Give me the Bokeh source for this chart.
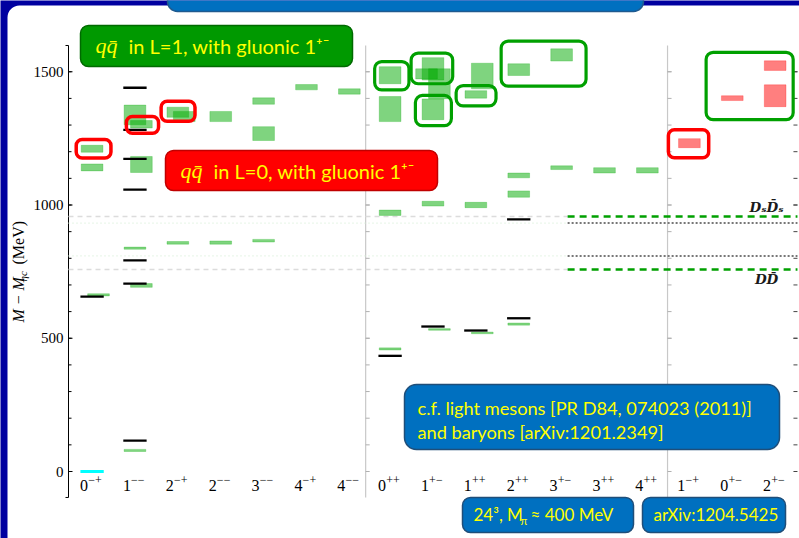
import math
from bokeh.plotting import figure
from bokeh.models import BoxAnnotation, Label, ColumnDataSource
from bokeh.core.properties import value
from bokeh.embed import file_html
from bokeh.resources import INLINE

# ---------------- data ----------------
categories = ["0⁻⁺", "1⁻⁻", "2⁻⁺", "2⁻⁻", "3⁻⁻", "4⁻⁺", "4⁻⁻",
              "0⁺⁺", "1⁺⁻", "1⁺⁺", "2⁺⁺", "3⁺⁻", "3⁺⁺", "4⁺⁺",
              "1⁻⁺", "0⁺⁻", "2⁺⁻"]
panel_of_cat = [0] * 7 + [1] * 7 + [2] * 3

# lattice states (green): category index, side slot, mass (MeV), half error (MeV)
lat_cat = [0, 0, 0,
           1, 1, 1, 1, 1, 1,
           2, 2, 2,
           3, 3,
           4, 4, 4,
           5,
           6,
           7, 7, 7, 7,
           8, 8, 8, 8, 8, 8,
           9, 9, 9, 9,
           10, 10, 10, 10,
           11, 11,
           12,
           13]
lat_slot = [0, 0, 1,
            0, 1, 1, 0, 1, 0,
            0, 1, 0,
            0, 0,
            0, 0, 0,
            0,
            0,
            0, 0, 0, 0,
            0, -1, 1, 0, 0, 1,
            1, 0, 0, 1,
            0, 0, 0, 0,
            0, 0,
            0,
            0]
lat_mass = [1211, 1141, 663,
            1338, 1303, 1152, 838, 698, 79,
            1348, 1332, 858,
            1332, 859,
            1390, 1268, 866,
            1442,
            1426,
            1487, 1360, 971, 460,
            1511, 1492, 1455, 1359, 1005, 533,
            1484, 1415, 1000, 520,
            1508, 1111, 1041, 553,
            1563, 1140,
            1130,
            1130]
lat_err = [13, 13, 4,
           37, 14, 30, 4, 7, 4,
           19, 19, 5,
           19, 6,
           12, 26, 5,
           10,
           10,
           32, 47, 10, 4,
           42, 19, 56, 39, 9, 3,
           48, 14, 10, 3,
           22, 9, 12, 4,
           23, 7,
           10,
           10]

# exotic states (red)
exo_cat = [14, 15, 16, 16]
exo_mass = [1232, 1401, 1523, 1410]
exo_err = [17, 9, 18, 41]

# experiment (black)
exp_cat = [0, 1, 1, 1, 1, 1, 1, 1, 7, 8, 9, 10, 10]
exp_mass = [656, 1440, 1282, 1173, 1058, 792, 705, 116, 434, 544, 529, 946, 575]

# reference eta_c (cyan)
ref_cat = [0]
ref_mass = [0]

# thresholds
thr_names = ["DₛD̄ₛ", "DD̄"]
thr_lattice = [957, 758]
thr_exp = [932, 809]

y_major = [0, 500, 1000, 1500]
y_major_labels = ["0", "500", "1000", "1500"]
y_minor = list(range(100, 1600, 100))
AX_BOT, AX_TOP = -97.5, 1598.5

# ---------------- geometry ----------------
W, H = 799, 538
X0_PX, PX_PER_X = 68, 42.88        # page x of x=0, pixels per column
Y0_PX, PX_PER_MEV = 471, 0.2665    # page y of 0 MeV, pixels per MeV

panel_shift = [0.05, 0.0, -0.02]
xc = [i + 0.5 + panel_shift[panel_of_cat[i]] for i in range(len(categories))]
sep_x = [6.93, 13.97]
thr_split = 11.64
X_END = 17.0
BOX_HW = 0.253
LINE_HW = 0.272
SLOT_DX = 0.15
MAJ_T = 4 / PX_PER_X
MIN_T = 3 / PX_PER_X

p = figure(width=W, height=H,
           x_range=(-X0_PX / PX_PER_X, (W - X0_PX) / PX_PER_X),
           y_range=((Y0_PX - H) / PX_PER_MEV, Y0_PX / PX_PER_MEV),
           x_axis_location=None, y_axis_location=None,
           output_backend="svg", toolbar_location=None,
           min_border=0, min_border_left=0, min_border_right=0, min_border_top=0, min_border_bottom=0)
p.outline_line_color = None
p.xgrid.visible = False
p.ygrid.visible = False
p.background_fill_color = "#0000a0"
p.border_fill_color = "#0000a0"


# ------------- page-pixel helpers for slide decorations -------------
def sx(px):
    return px


def sy(py):
    return H - py


def box(x0, y0, x1, y1, fill, line, radius=8, lw=1.5, level="annotation"):
    p.add_layout(BoxAnnotation(left=sx(x0), right=sx(x1), top=sy(y0), bottom=sy(y1),
                               left_units="screen", right_units="screen",
                               top_units="screen", bottom_units="screen",
                               fill_color=fill, fill_alpha=1, line_color=line, line_width=lw,
                               line_alpha=1 if line else 0, border_radius=radius, level=level))


def lab(px, py, text, size, font="Lato", style="normal", color="#ffff00", angle=0, align="left"):
    p.add_layout(Label(x=sx(px), y=sy(py), x_units="screen", y_units="screen", text=text,
                       text_font=font, text_font_style=style, text_font_size=size,
                       text_color=color, text_align=align, text_baseline="middle", angle=angle))


# slide background: white rounded panel on dark blue
box(7, 5, 840, 560, "white", None, radius=12, lw=0, level="underlay")

# ------------- hand-drawn axis (so that slide overlays are not clipped) -------------
p.segment(x0=[0], x1=[0], y0=[AX_BOT], y1=[AX_TOP], line_color="black", line_width=1)
p.segment(x0=[0] * len(y_major), x1=[MAJ_T] * len(y_major), y0=y_major, y1=y_major,
          line_color="black", line_width=1)
p.segment(x0=[0] * len(y_minor), x1=[MIN_T] * len(y_minor), y0=y_minor, y1=y_minor,
          line_color="black", line_width=1)
p.segment(x0=[-MIN_T, -MIN_T], x1=[0, 0], y0=[AX_BOT, AX_TOP], y1=[AX_BOT, AX_TOP],
          line_color="black", line_width=1)
p.text(x=[-5 / PX_PER_X] * len(y_major), y=y_major, text=y_major_labels,
       text_align="right", text_baseline="middle",
       text_font=value("Liberation Serif"), text_font_size="15px", text_color="black")

all_ticks = y_major + y_minor
for s in sep_x:
    p.segment(x0=[s], x1=[s], y0=[AX_BOT], y1=[AX_TOP], line_color="#c8c8c8", line_width=1.2)
    p.segment(x0=[s] * len(all_ticks), x1=[s + MAJ_T] * len(all_ticks), y0=all_ticks, y1=all_ticks,
              line_color="#b0b0b0", line_width=1)
p.segment(x0=[X_END - MAJ_T] * len(all_ticks), x1=[X_END] * len(all_ticks), y0=all_ticks, y1=all_ticks,
          line_color="#444444", line_width=1)

# thresholds: faint continuation on the left, strong on the right
n = len(thr_lattice)
p.segment(x0=[0] * n, x1=[thr_split] * n, y0=thr_lattice, y1=thr_lattice,
          line_color="#dcdcdc", line_width=1.5, line_dash="5 4")
p.segment(x0=[0] * n, x1=[thr_split] * n, y0=thr_exp, y1=thr_exp,
          line_color="#d6f0d6", line_width=1.2, line_dash="1 3")
p.segment(x0=[thr_split] * n, x1=[X_END] * n, y0=thr_lattice, y1=thr_lattice,
          line_color="#00a000", line_width=2.5, line_dash="7 5")
p.segment(x0=[thr_split] * n, x1=[X_END] * n, y0=thr_exp, y1=thr_exp,
          line_color="#777777", line_width=2, line_dash="2 2")

# lattice boxes
lx = [xc[c] + s * SLOT_DX for c, s in zip(lat_cat, lat_slot)]
lat_src = ColumnDataSource(dict(
    left=[x - BOX_HW for x in lx], right=[x + BOX_HW for x in lx],
    bottom=[m - e for m, e in zip(lat_mass, lat_err)],
    top=[m + e for m, e in zip(lat_mass, lat_err)]))
p.quad(left="left", right="right", bottom="bottom", top="top", source=lat_src,
       fill_color="#00aa00", fill_alpha=0.5, line_color="#00aa00", line_alpha=0.25, line_width=1)

ex = [xc[c] for c in exo_cat]
exo_src = ColumnDataSource(dict(
    left=[x - BOX_HW for x in ex], right=[x + BOX_HW for x in ex],
    bottom=[m - e for m, e in zip(exo_mass, exo_err)],
    top=[m + e for m, e in zip(exo_mass, exo_err)]))
p.quad(left="left", right="right", bottom="bottom", top="top", source=exo_src,
       fill_color="#ff0000", fill_alpha=0.5, line_color="#ff0000", line_alpha=0.25, line_width=1)

# experiment lines
exx = [xc[c] for c in exp_cat]
p.segment(x0=[x - LINE_HW for x in exx], x1=[x + LINE_HW for x in exx], y0=exp_mass, y1=exp_mass,
          line_color="black", line_width=2.3)
rx = [xc[c] for c in ref_cat]
p.segment(x0=[x - LINE_HW for x in rx], x1=[x + LINE_HW for x in rx], y0=ref_mass, y1=ref_mass,
          line_color="#00ffff", line_width=3)

# category labels: J in normal size, PC as superscript
sup_map = {"⁺": "+", "⁻": "−"}
cat_J = [c[0] for c in categories]
cat_PC = ["".join(sup_map[ch] for ch in c[1:]) for c in categories]
p.text(x=[x - 0.095 for x in xc], y=[-51] * len(xc), text=cat_J, text_align="right",
       text_baseline="middle", text_font=value("Liberation Serif"), text_font_size="16px",
       text_color="black")
p.text(x=[x - 0.09 for x in xc], y=[-33] * len(xc), text=cat_PC, text_align="left",
       text_baseline="middle", text_font=value("Liberation Serif"), text_font_size="12px",
       text_color="black")

# threshold labels
p.add_layout(Label(x=16.28, y=994, text=thr_names[0], text_align="center", text_baseline="middle",
                   text_font="DejaVu Serif", text_font_style="bold italic", text_font_size="13.5px",
                   text_color="#1a1a1a"))
p.add_layout(Label(x=16.28, y=722, text=thr_names[1], text_align="center", text_baseline="middle",
                   text_font="DejaVu Serif", text_font_style="bold italic", text_font_size="13.5px",
                   text_color="#1a1a1a"))

# outlines (slide annotations, data coordinates)
red_outlines = [(0.18, 0.99, 1176, 1246), (1.35, 2.10, 1269, 1332), (2.16, 2.95, 1314, 1389),
                (13.99, 14.93, 1177, 1282)]
green_outlines = [(7.14, 7.94, 1432, 1538), (7.99, 8.96, 1455, 1570), (8.09, 8.93, 1298, 1411),
                  (9.04, 9.97, 1372, 1448), (10.09, 12.07, 1446, 1615), (14.87, 16.90, 1320, 1573)]
for (l, r, b, t) in red_outlines:
    p.add_layout(BoxAnnotation(left=l, right=r, bottom=b, top=t, fill_alpha=0,
                               line_color="#ff0000", line_width=3.5, line_alpha=1, border_radius=6))
for (l, r, b, t) in green_outlines:
    p.add_layout(BoxAnnotation(left=l, right=r, bottom=b, top=t, fill_alpha=0,
                               line_color="#00a000", line_width=3.2, line_alpha=1, border_radius=7))

# ------------- slide text boxes -------------
box(167, -20, 643, 11, "#0070c0", "#1f5a8f", radius=10)
box(80, 25, 352, 66, "#009900", "#006a00")
lab(95, 45, "qq̄", "22px", font="Liberation Serif", style="italic")
lab(128, 45, "in L=1, with gluonic 1⁺⁻", "20px")
box(165, 150, 437, 190, "#ff0000", "#c00000")
lab(180, 170, "qq̄", "22px", font="Liberation Serif", style="italic")
lab(213, 170, "in L=0, with gluonic 1⁺⁻", "20px")
box(404, 384, 779, 449, "#0070c0", "#1f4e79", radius=12)
lab(417, 407, "c.f. light mesons [PR D84, 074023 (2011)]", "18.2px")
lab(417, 431, "and baryons [arXiv:1201.2349]", "18.2px")
box(462, 497, 633, 532, "#0070c0", "#1f4e79")
lab(473, 514, "24³,  M", "17px")
lab(520, 520, "π", "11px")
lab(530, 514, "≈ 400 MeV", "17px")
box(642, 497, 785, 532, "#0070c0", "#1f4e79")
lab(653, 514, "arXiv:1204.5425", "17px")

# y-axis title pieces (rotated)
lab(18, 322, "M − M", "16px", font="Liberation Serif", style="italic", color="black", angle=math.pi / 2)
lab(22, 281, "ηc", "11px", font="Liberation Serif", style="italic", color="black", angle=math.pi / 2)
lab(18, 264, "(MeV)", "16px", font="Liberation Serif", color="black", angle=math.pi / 2)

open("out.html", "w").write(file_html(p, INLINE))
